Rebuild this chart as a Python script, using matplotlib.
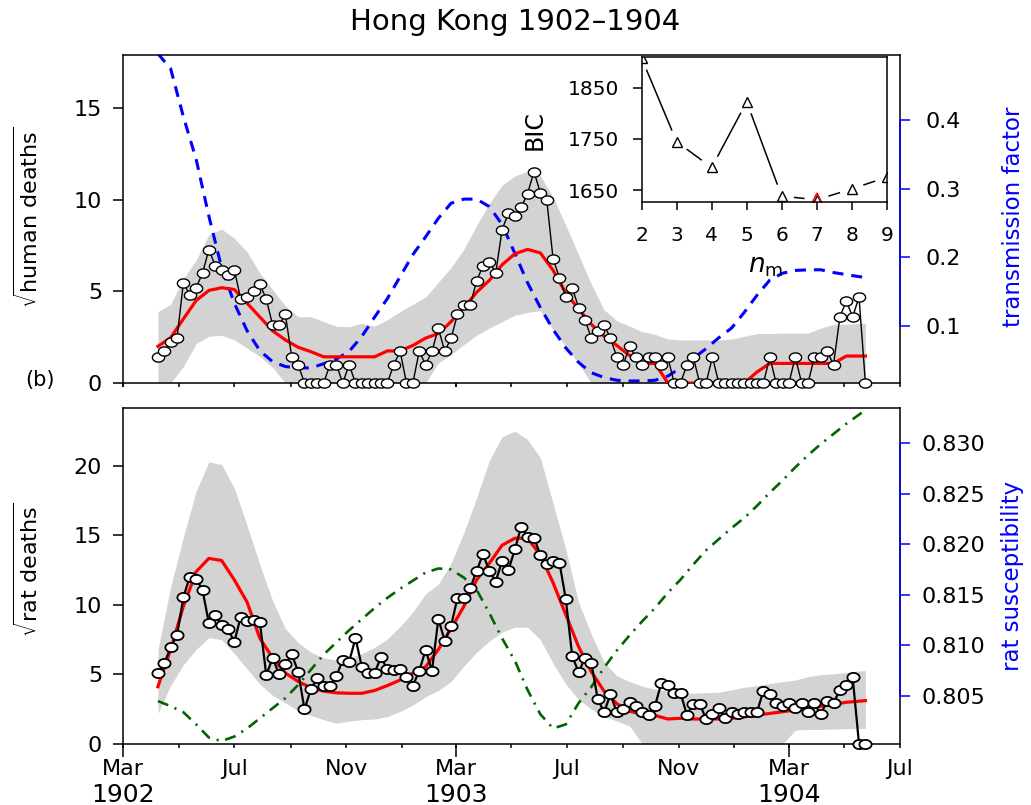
import numpy as np
import matplotlib
matplotlib.use('Agg')
import matplotlib.pyplot as plt
import matplotlib.dates as mdates
from matplotlib.path import Path
from matplotlib.ticker import FuncFormatter

# ---------------- data ----------------
start_date = np.datetime64('1902-04-08')
n_weeks = 112
week_dates = start_date + np.arange(n_weeks) * np.timedelta64(7, 'D')

human = [1.41, 1.73, 2.24, 2.45, 5.48, 4.80, 5.20, 6.00, 7.28, 6.40,
         6.16, 5.92, 6.16, 4.58, 4.69, 5.00, 5.39, 4.58, 3.16, 3.16,
         3.74, 1.41, 1.00, 0, 0, 0, 0, 1.00, 1.00, 0,
         1.00, 0, 0, 0, 0, 0, 0, 1.00, 1.73, 0,
         0, 1.73, 1.00, 1.73, 3.00, 1.73, 2.45, 3.74, 4.24, 4.24,
         5.57, 6.40, 6.63, 6.00, 8.37, 9.27, 9.11, 9.59, 10.34, 11.53,
         10.39, 10.00, 6.78, 5.74, 4.69, 5.20, 4.12, 3.46, 2.45, 2.83,
         3.16, 2.45, 1.41, 1.00, 2.00, 1.41, 1.00, 1.41, 1.41, 1.00,
         1.41, 0, 0, 1.00, 1.41, 0, 0, 1.41, 0, 0,
         0, 0, 0, 0, 0, 0, 1.41, 0, 0, 0,
         1.41, 0, 0, 1.41, 1.41, 1.73, 1.00, 3.61, 4.47, 3.61,
         4.69, 0]

rat = [5.13, 5.80, 6.96, 7.82, 10.55, 12.04, 11.90, 11.08, 8.68, 9.26,
       8.56, 8.25, 7.36, 9.16, 8.87, 8.92, 8.75, 4.96, 6.17, 5.06,
       5.73, 6.45, 5.21, 2.50, 3.93, 4.73, 4.17, 4.17, 4.89, 6.04,
       5.92, 7.60, 5.56, 5.08, 5.13, 6.24, 5.37, 5.30, 5.37, 4.82,
       4.20, 5.25, 6.76, 5.27, 8.99, 7.43, 8.49, 10.52, 10.52, 11.20,
       12.45, 13.65, 12.47, 11.68, 13.19, 12.52, 14.00, 15.63, 14.90, 14.84,
       13.60, 12.95, 13.19, 13.04, 10.40, 6.33, 5.16, 6.17, 5.85, 3.24,
       2.28, 3.57, 2.28, 2.52, 3.04, 2.76, 2.32, 2.09, 2.76, 4.41,
       4.24, 3.65, 3.65, 2.09, 2.90, 2.90, 1.80, 2.14, 2.57, 1.85,
       2.32, 2.14, 2.32, 2.32, 2.32, 3.82, 3.57, 2.97, 2.73, 2.92,
       2.57, 2.92, 2.32, 2.92, 2.14, 3.12, 2.97, 3.88, 4.24, 4.80,
       0, 0]

# model curves sampled every two weeks (plus final week)
model_weeks = list(range(0, 112, 2)) + [111]

human_med = [2.0, 2.47, 3.5, 4.5, 5.05, 5.2, 5.1, 4.35, 3.6, 2.85,
             2.35, 1.95, 1.71, 1.43, 1.43, 1.43, 1.43, 1.43, 1.75, 1.75,
             2.05, 2.45, 2.7, 3.35, 4.1, 4.95, 5.6, 6.45, 7.05, 7.29,
             7.1, 6.15, 4.9, 4.05, 3.2, 2.55, 2.05, 1.5, 1.07, 1.07,
             0, 0, 0, 0, 0, 0, 0, 0.6, 1.07, 1.07,
             1.07, 1.07, 1.07, 1.07, 1.47, 1.47, 1.47]
human_hi = [3.89, 4.3, 5.7, 6.7, 8.1, 8.4, 7.9, 7.15, 6.0, 5.1,
            4.2, 3.62, 3.62, 3.35, 3.1, 3.07, 3.26, 3.1, 3.45, 3.9,
            4.3, 4.7, 5.5, 6.3, 7.3, 8.6, 9.8, 10.8, 11.3, 11.55,
            11.3, 10.15, 8.6, 7.0, 5.4, 4.0, 3.4, 3.1, 2.8, 2.65,
            2.4, 2.35, 2.35, 2.35, 2.35, 2.4, 2.55, 2.7, 2.7, 2.72,
            2.72, 2.72, 3.0, 3.2, 3.2, 3.26, 3.26]
human_lo = [0, 0, 0.9, 2.15, 2.55, 2.6, 2.35, 1.9, 1.45, 0.85,
            0, 0, 0, 0, 0, 0, 0, 0, 0, 0,
            0, 0, 1.1, 1.55, 2.1, 2.6, 3.0, 3.35, 3.7, 3.85,
            3.95, 2.9, 2.0, 1.05, 0, 0, 0, 0, 0, 0,
            0, 0, 0, 0, 0, 0, 0, 0, 0, 0,
            0, 0, 0, 0, 0, 0, 0]
transmission = [0.497, 0.475, 0.405, 0.343, 0.26, 0.185, 0.133, 0.093, 0.064, 0.048,
                0.041, 0.039, 0.039, 0.045, 0.052, 0.063, 0.085, 0.113, 0.14, 0.172,
                0.204, 0.23, 0.257, 0.279, 0.285, 0.285, 0.274, 0.248, 0.206, 0.163,
                0.127, 0.095, 0.068, 0.047, 0.032, 0.025, 0.021, 0.02, 0.02, 0.021,
                0.027, 0.039, 0.053, 0.067, 0.083, 0.097, 0.12, 0.145, 0.167, 0.177,
                0.181, 0.182, 0.182, 0.178, 0.175, 0.172, 0.171]

rat_med = [4.12, 6.8, 9.9, 12.4, 13.35, 13.2, 11.8, 10.2, 7.6, 6.2,
           5.1, 4.5, 4.05, 3.8, 3.68, 3.65, 3.65, 3.85, 4.2, 4.6,
           5.1, 5.55, 6.8, 8.3, 9.9, 11.8, 13.0, 14.3, 14.8, 14.8,
           13.6, 11.6, 9.3, 7.0, 5.2, 3.8, 2.9, 2.35, 2.15, 2.05,
           1.8, 1.85, 1.8, 1.8, 1.8, 1.85, 1.95, 2.08, 2.2, 2.32,
           2.45, 2.58, 2.72, 2.85, 3.0, 3.08, 3.12]
rat_hi = [6.76, 11.3, 14.9, 18.2, 20.3, 20.1, 18.4, 15.7, 12.9, 10.3,
          8.3, 7.3, 6.6, 6.2, 6.04, 6.2, 6.5, 6.95, 7.55, 8.45,
          9.5, 10.8, 11.5, 13.0, 15.2, 17.7, 20.4, 22.1, 22.5, 21.9,
          20.6, 17.3, 14.0, 10.2, 7.9, 5.9, 4.9, 4.5, 4.15, 3.95,
          3.8, 3.68, 3.65, 3.7, 3.72, 3.9, 4.08, 4.2, 4.35, 4.48,
          4.6, 4.85, 4.98, 5.05, 5.15, 5.25, 5.27]
rat_lo = [2.21, 4.2, 5.7, 6.8, 7.65, 7.5, 6.5, 5.4, 4.3, 3.5,
          2.95, 2.4, 2.05, 1.75, 1.49, 1.65, 1.75, 1.8, 1.97, 2.35,
          2.8, 3.4, 3.85, 4.5, 5.6, 6.6, 7.4, 8.05, 8.4, 8.4,
          7.5, 5.8, 4.3, 3.2, 2.5, 2.0, 1.65, 1.3, 0, 0,
          0, 0, 0, 0, 0, 0, 0, 0, 0, 0,
          1.0, 1.05, 1.05, 1.08, 1.1, 1.12, 1.12]
rat_susceptibility = [0.8045, 0.8040, 0.8034, 0.8022, 0.8009, 0.80055, 0.8010, 0.8018, 0.8028, 0.8038,
                      0.8048, 0.8061, 0.8076, 0.8091, 0.8103, 0.8115, 0.8126, 0.8137, 0.8147, 0.8156,
                      0.8164, 0.8172, 0.8176, 0.8175, 0.8167, 0.8155, 0.8132, 0.8107, 0.8085, 0.8056,
                      0.8032, 0.8018, 0.8022, 0.8043, 0.8059, 0.8078, 0.8095, 0.8110, 0.8124, 0.8137,
                      0.8152, 0.8165, 0.8180, 0.8194, 0.8205, 0.8216, 0.8226, 0.8238, 0.8251, 0.8263,
                      0.8276, 0.8288, 0.8299, 0.8309, 0.8319, 0.8328, 0.8333]

# inset: BIC vs n_m
n_m = [2, 3, 4, 5, 6, 7, 8, 9]
bic = [1907, 1744, 1694, 1822, 1638, 1631, 1652, 1675]
best_n = 7

left_yticks_top = [0, 5, 10, 15]
right_yticks_top = [0.1, 0.2, 0.3, 0.4]
left_yticks_bot = [0, 5, 10, 15, 20]
right_yticks_bot = [0.805, 0.810, 0.815, 0.820, 0.825, 0.830]
bic_ticks = [1650, 1750, 1850]
label_months = {3: 'Mar', 7: 'Jul', 11: 'Nov'}
years = [1902, 1903, 1904]

# ---------------- figure ----------------
plt.rcParams['font.family'] = ['DejaVu Sans']
plt.rcParams['mathtext.fontset'] = 'dejavusans'

W, H = 1031, 805
fig = plt.figure(figsize=(W / 100, H / 100), dpi=100)


def px_axes(l, t, r, b):
    return fig.add_axes([l / W, 1 - b / H, (r - l) / W, (b - t) / H])


ax1 = px_axes(123.3, 55, 900, 383)
ax2 = px_axes(123.3, 408, 900, 744)
ax1r = ax1.twinx()
ax2r = ax2.twinx()

wd = mdates.date2num(week_dates)
md = wd[model_weeks]

ell_t = np.linspace(0, 2 * np.pi, 49)
ellipse = Path(np.column_stack([np.cos(ell_t), 0.75 * np.sin(ell_t)]), closed=True)

GRAY = '#D3D3D3'
xmin = mdates.date2num(np.datetime64('1902-03-01'))
xmax = mdates.date2num(np.datetime64('1904-07-01'))

ax1.set_ylim(0, 17.9)
ax1r.set_ylim(0.017, 0.495)
ax2.set_ylim(0, 24.17)
ax2r.set_ylim(0.80026, 0.83346)
for a in (ax1, ax2):
    a.set_xlim(xmin, xmax)

# top panel
ax1.fill_between(md, human_lo, human_hi, color=GRAY, lw=0, zorder=1)
ax1.plot(md, transmission, color='#0000FF', lw=2.2, dashes=(3.6, 2.6),
         transform=ax1r.transData, zorder=2)
ax1.plot(md, human_med, color='#FF0000', lw=2.3, zorder=3)
ax1.plot(wd, human, color='black', lw=1.0, zorder=4)
ax1.plot(wd, human, ls='none', marker=ellipse, ms=8.8, mfc='white', mec='black',
         mew=1.0, zorder=5, clip_on=False)

# bottom panel
ax2.fill_between(md, rat_lo, rat_hi, color=GRAY, lw=0, zorder=1)
ax2.plot(md, rat_susceptibility, color='#006400', lw=1.9, dashes=(4.2, 2.6, 0.8, 2.6),
         transform=ax2r.transData, zorder=2)
ax2.plot(md, rat_med, color='#FF0000', lw=2.3, zorder=3)
ax2.plot(wd, rat, color='black', lw=1.6, zorder=4)
ax2.plot(wd, rat, ls='none', marker=ellipse, ms=8.8, mfc='white', mec='black',
         mew=1.3, zorder=5, clip_on=False)

TICK_FS = 16
for a in (ax1, ax2):
    for s in a.spines.values():
        s.set_linewidth(1.1)
    a.tick_params(axis='y', direction='out', length=7.2, width=1.1, labelsize=TICK_FS, pad=8)
    a.xaxis.set_major_locator(mdates.MonthLocator(bymonth=[1, 3, 5, 7, 9, 11]))
    a.xaxis.set_minor_locator(mdates.MonthLocator(bymonth=[3]))
    a.xaxis.remove_overlapping_locs = False

ax1.set_yticks(left_yticks_top)
ax2.set_yticks(left_yticks_bot)
ax1.tick_params(axis='x', which='both', direction='out', length=3, width=1.1, labelbottom=False)
ax2.tick_params(axis='x', which='major', direction='out', length=3, width=1.1,
                labelsize=TICK_FS, pad=8)
ax2.tick_params(axis='x', which='minor', direction='out', length=9.4, width=1.1)


def month_fmt(x, pos=None):
    m = mdates.num2date(x).month
    return label_months.get(m, '')


ax2.xaxis.set_major_formatter(FuncFormatter(month_fmt))
ax2.xaxis.set_minor_formatter(FuncFormatter(lambda x, p: ''))

for y in years:
    ax2.annotate(str(y), xy=(mdates.date2num(np.datetime64('%d-03-01' % y)), 0),
                 xycoords=('data', 'axes fraction'), xytext=(0, -36.5),
                 textcoords='offset points', ha='center', va='center', fontsize=18)

for a, ticks, bnds, fmt, pad in ((ax1r, right_yticks_top, (0.1, 0.4), '%.1f', 11),
                                 (ax2r, right_yticks_bot, (0.805, 0.830), '%.3f', 8)):
    for k in ('top', 'bottom', 'left'):
        a.spines[k].set_visible(False)
    a.spines['right'].set_color('#0000FF')
    a.spines['right'].set_linewidth(1.1)
    a.spines['right'].set_bounds(*bnds)
    a.set_yticks(ticks)
    a.set_yticklabels([fmt % t for t in ticks])
    a.tick_params(axis='y', direction='out', length=7.2, width=1.1, color='#0000FF',
                  labelcolor='black', labelsize=TICK_FS, pad=pad)

# labels
fig.text(515 / W, 1 - 22 / H, 'Hong Kong 1902\u20131904', ha='center', va='center', fontsize=21)
fig.text(40 / W, 1 - 380 / H, '(b)', ha='center', va='center', fontsize=15)
fig.text(28 / W, 1 - 217 / H, r'$\sqrt{\mathrm{human\ deaths}}$', rotation=90,
         ha='center', va='center', fontsize=16)
fig.text(28 / W, 1 - 570 / H, r'$\sqrt{\mathrm{rat\ deaths}}$', rotation=90,
         ha='center', va='center', fontsize=16)
fig.text(1013 / W, 1 - 217 / H, 'transmission factor', rotation=90, color='#0000FF',
         ha='center', va='center', fontsize=16.5)
fig.text(1013 / W, 1 - 576 / H, 'rat susceptibility', rotation=90, color='#0000FF',
         ha='center', va='center', fontsize=16.5)

# inset
axin = px_axes(641.7, 57.3, 886.7, 202.3)
axin.set_facecolor('white')
axin.set_xlim(2, 9)
axin.set_ylim(1626, 1909)
for s in axin.spines.values():
    s.set_linewidth(1.1)
axin.set_xticks(n_m)
axin.set_yticks(bic_ticks)
axin.tick_params(axis='x', direction='out', length=5.8, width=1.1, labelsize=14.5, pad=11)
axin.tick_params(axis='y', direction='out', length=6.5, width=1.1, labelsize=14.5, pad=10)

pts = axin.transData.transform(np.column_stack([n_m, bic]))
gap = 13.0
for i in range(len(n_m) - 1):
    p0, p1 = pts[i], pts[i + 1]
    d = p1 - p0
    L = np.hypot(d[0], d[1])
    if L > 2 * gap:
        u = d / L
        seg = axin.transData.inverted().transform(np.array([p0 + u * gap, p1 - u * gap]))
        axin.plot(seg[:, 0], seg[:, 1], color='black', lw=1.1)
axin.plot(n_m, bic, ls='none', marker='^', ms=7, mfc='none', mec='black', mew=1.0)
axin.plot([best_n], [bic[n_m.index(best_n)]], ls='none', marker='^', ms=9.5,
          mfc='none', mec='#FF0000', mew=1.1)

fig.text(535 / W, 1 - 130 / H, 'BIC', rotation=90, ha='center', va='center', fontsize=17)
fig.text(766 / W, 1 - 266 / H, r'$n_{\mathrm{m}}$', ha='center', va='center', fontsize=19)

fig.savefig('out.png', dpi=100)
